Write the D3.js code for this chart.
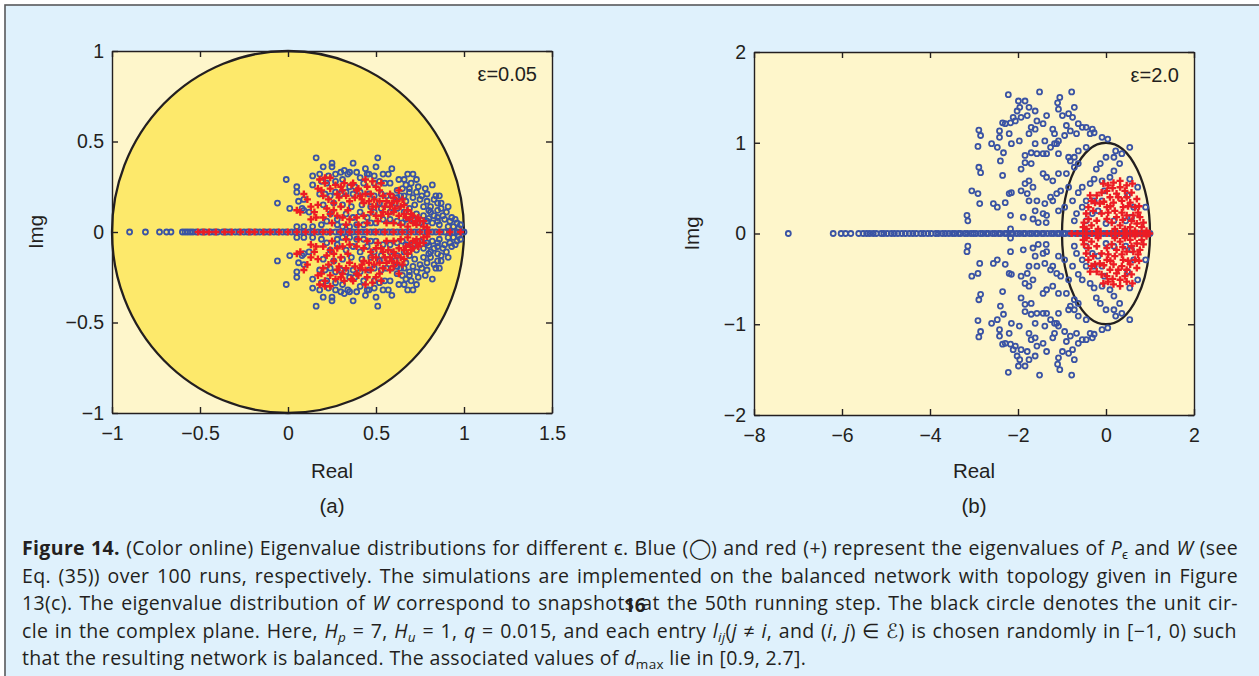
<!DOCTYPE html>
<html>
<head>
<meta charset="utf-8">
<script src="https://cdn.jsdelivr.net/npm/d3@7"></script>
<style>
  body { margin: 0; background: #fff; }
  svg { display: block; }
</style>
</head>
<body>
<svg width="1259" height="676"></svg>
<script>

// tick values
var ticksAx = [-1, -0.5, 0, 0.5, 1, 1.5],
    ticksAy = [-1, -0.5, 0, 0.5, 1],
    ticksBx = [-8, -6, -4, -2, 0, 2],
    ticksBy = [-2, -1, 0, 1, 2];

// (a) eps = 0.05 : eigenvalues in upper half plane [re, im] (conjugates mirror them)
var blueAUp = [
  [0.16,0.41],[0.25,0.38],[0.25,0.36],[0.20,0.36],[0.37,0.38],[0.51,0.41],[0.50,0.36],[0.44,0.35],
  [0.45,0.32],[0.39,0.33],[0.35,0.33],[0.32,0.34],[0.30,0.33],[0.27,0.32],[0.23,0.31],[0.18,0.32],
  [0.14,0.31],[0.19,0.28],[0.22,0.27],[0.27,0.28],[0.31,0.29],[0.34,0.32],[0.41,0.30],[0.46,0.32],
  [0.49,0.31],[0.54,0.32],[0.57,0.32],[0.59,0.35],[0.63,0.29],[0.66,0.29],[0.68,0.32],[0.71,0.32],
  [0.67,0.26],[0.70,0.27],[0.74,0.25],[0.69,0.24],[0.65,0.24],[0.62,0.23],[0.58,0.27],[0.55,0.27],
  [0.52,0.28],[0.49,0.27],[0.43,0.27],[0.38,0.25],[0.35,0.25],[0.69,0.22],[0.73,0.22],[0.76,0.20],
  [0.79,0.21],[0.82,0.26],[0.84,0.20],[0.86,0.20],[0.85,0.16],[0.81,0.14],[0.77,0.14],[0.72,0.15],
  [0.67,0.17],[0.66,0.20],[0.64,0.20],[0.62,0.19],[0.59,0.20],[0.56,0.20],[0.53,0.21],[0.49,0.20],
  [0.46,0.21],[0.41,0.22],[0.37,0.21],[0.33,0.22],[0.30,0.21],[0.27,0.22],[0.24,0.20],[0.21,0.21],
  [0.18,0.21],[0.09,0.18],[0.06,0.17],[0.05,0.25],[0.05,0.22],[-0.01,0.29],[-0.06,0.16],[0.08,0.13],
  [0.01,0.13],[0.14,0.26],[0.09,0.12],[0.12,0.11],[0.22,0.06],[0.24,0.10],[0.28,0.07],[0.33,0.10],
  [0.37,0.08],[0.41,0.11],[0.45,0.08],[0.49,0.11],[0.53,0.13],[0.58,0.11],[0.62,0.13],[0.66,0.11],
  [0.69,0.13],[0.73,0.10],[0.77,0.09],[0.81,0.11],[0.85,0.12],[0.87,0.13],[0.90,0.11],[0.92,0.06],
  [0.94,0.03],[0.96,0.05],[0.97,0.02],[0.89,0.07],[0.85,0.06],[0.82,0.05],[0.79,0.06],[0.75,0.05],
  [0.71,0.07],[0.67,0.07],[0.65,0.05],[0.62,0.06],[0.58,0.07],[0.54,0.07],[0.50,0.05],[0.47,0.05],
  [0.43,0.04],[0.39,0.04],[0.35,0.03],[0.31,0.03],[0.28,0.04],[0.19,0.04],[0.14,0.03],[0.09,0.03],
  [0.05,0.03],[0.79,0.17],[0.83,0.18],[0.87,0.16],[0.91,0.14],[0.93,0.08],[0.88,0.09],[0.85,0.08],
  [0.83,0.09],[0.80,0.075],[0.95,0.07],[0.91,0.03],[0.86,0.04],[0.98,0.04],[0.73,0.29],[0.78,0.24],
  [0.75,0.18],[0.80,0.12],[0.71,0.19],[0.20,0.15],[0.26,0.16],[0.31,0.15],[0.36,0.14],[0.42,0.15],
  [0.47,0.14],[0.52,0.16],[0.57,0.15],[0.61,0.16]
];
var redAUp = [
  [0.09,0.21],[0.11,0.18],[0.13,0.14],[0.15,0.11],[0.17,0.15],[0.19,0.23],[0.21,0.27],[0.24,0.24],
  [0.23,0.18],[0.26,0.16],[0.29,0.19],[0.30,0.25],[0.31,0.23],[0.33,0.20],[0.35,0.17],[0.37,0.27],
  [0.39,0.23],[0.41,0.20],[0.43,0.16],[0.45,0.25],[0.47,0.21],[0.49,0.18],[0.50,0.14],[0.52,0.23],
  [0.54,0.20],[0.56,0.17],[0.58,0.14],[0.60,0.11],[0.62,0.17],[0.64,0.14],[0.66,0.10],[0.67,0.08],
  [0.69,0.07],[0.71,0.05],[0.73,0.04],[0.75,0.06],[0.77,0.03],[0.79,0.025],[0.54,0.11],[0.50,0.09],
  [0.47,0.11],[0.43,0.09],[0.39,0.08],[0.35,0.07],[0.31,0.08],[0.28,0.09],[0.24,0.10],[0.20,0.08],
  [0.16,0.08],[0.13,0.07],[0.07,0.11],[0.05,0.12],[0.18,0.29],[0.21,0.30],[0.24,0.30],[0.27,0.26],
  [0.58,0.21],[0.60,0.19],[0.63,0.23],[0.50,0.25],[0.53,0.27],[0.48,0.28],[0.44,0.29],[0.65,0.18],
  [0.66,0.15],[0.68,0.12],[0.71,0.09],[0.74,0.08],[0.77,0.06],[0.32,0.27],[0.36,0.26],[0.40,0.24],
  [0.42,0.18],[0.46,0.17],[0.48,0.14],[0.52,0.17],[0.55,0.14],[0.57,0.10],[0.61,0.13],[0.63,0.09],
  [0.44,0.21],[0.38,0.19],[0.34,0.12],[0.30,0.14],[0.26,0.12],[0.22,0.13],[0.20,0.20],[0.17,0.24],
  [0.28,0.21],[0.51,0.06],[0.56,0.05],[0.60,0.05],[0.64,0.04],[0.68,0.03],[0.45,0.05],[0.40,0.04],
  [0.33,0.04],[0.25,0.05],[0.70,0.10],[0.73,0.06],[0.59,0.16],[0.53,0.09]
];
// eigenvalues lying on the real axis
var blueAReal = [-0.90,-0.81,-0.73,-0.69,-0.665,-0.60,-0.585,-0.57,-0.555,-0.54,-0.52,-0.49,-0.47,
  -0.44,-0.42,-0.40,-0.37,-0.35,-0.33,-0.30,-0.28,-0.25,-0.23,-0.21,-0.18,-0.16,-0.13,-0.11,-0.08,
  -0.06,-0.03,-0.01,0.02,0.04,0.07,0.09,0.12,0.14,0.17,0.19,0.22,0.24,0.27,0.29,0.32,0.34,0.37,
  0.39,0.42,0.44,0.47,0.49,0.52,0.54,0.57,0.59,0.62,0.64,0.67,0.69,0.72,0.74,0.77,0.79,0.82,0.84,
  0.87,0.89,0.92,0.94,0.96,0.98,1.0];
var redAReal = [-0.51,-0.48,-0.45,-0.41,-0.36,-0.32,-0.27,-0.22,-0.19,-0.14,-0.10,-0.05,0.0,0.05,
  0.10,0.15,0.20,0.24,0.30,0.35,0.40,0.45,0.50,0.55,0.60,0.65,0.70,0.75,0.80,0.86,0.92,0.98];

// (b) eps = 2.0
var blueBUp = [
  [-2.22,1.53],[-1.99,1.46],[-1.96,1.39],[-2.02,1.35],[-1.84,1.46],[-1.75,1.39],[-1.51,1.56],[-1.05,1.50],
  [-1.10,1.44],[-0.78,1.56],[-0.72,1.39],[-1.08,1.37],[-0.99,1.30],[-0.85,1.32],[-0.76,1.28],[-1.61,1.35],
  [-1.79,1.30],[-1.93,1.28],[-2.11,1.28],[-2.35,1.22],[-2.17,1.22],[-2.06,1.24],[-1.35,1.30],[-1.57,1.24],
  [-1.70,1.17],[-1.61,1.15],[-1.75,1.10],[-1.43,1.21],[-1.21,1.15],[-1.17,1.10],[-0.90,1.19],[-0.63,1.21],
  [-0.54,1.17],[-0.45,1.17],[-0.31,1.15],[-0.27,1.11],[-0.36,1.10],[-0.09,1.06],[0.04,1.04],[-0.67,1.10],
  [-0.81,1.13],[-0.94,1.08],[-1.08,1.02],[-1.17,0.99],[-1.26,0.95],[-1.35,0.88],[-1.39,1.02],[-1.61,0.99],
  [-1.70,0.89],[-1.57,0.88],[-1.43,0.88],[-1.84,0.86],[-1.97,1.02],[-2.15,0.99],[-2.42,1.06],[-2.42,1.13],
  [-2.60,0.99],[-2.47,0.95],[-2.33,0.89],[-2.40,0.80],[-2.89,1.14],[-2.85,1.08],[-2.91,0.96],[-2.89,0.73],
  [-2.85,0.67],[-2.20,1.10],[-2.29,1.21],[-1.12,0.99],[-1.08,0.88],[-0.85,0.84],[-0.81,0.80],[-0.72,0.84],
  [-0.63,0.91],[-0.45,0.95],[-0.63,0.77],[-0.72,0.73],[-0.90,0.66],[-1.08,0.66],[-1.21,0.58],[-1.35,0.62],
  [-1.43,0.66],[-1.70,0.77],[-1.84,0.78],[-1.93,0.71],[-1.75,0.58],[-1.84,0.55],[-1.66,0.51],[-1.79,0.44],
  [-1.75,0.36],[-1.57,0.36],[-1.61,0.25],[-1.66,0.16],[-1.88,0.18],[-1.39,0.33],[-1.21,0.36],[-1.12,0.44],
  [-1.03,0.47],[-0.85,0.51],[-0.94,0.29],[-0.76,0.36],[-0.63,0.45],[-0.54,0.51],[-0.36,0.55],[-0.45,0.36],
  [-0.54,0.29],[-0.67,0.22],[-0.72,0.14],[-0.45,0.14],[-0.31,0.22],[-0.18,0.25],[-0.27,0.36],[-0.09,0.36],
  [-0.04,0.47],[0.09,0.62],[0.18,0.69],[0.31,0.77],[0.18,0.84],[0.36,0.88],[0.54,0.95],[0.22,0.91],
  [0.00,0.84],[-0.13,0.77],[-0.22,0.71],[-0.27,0.60],[-0.09,0.58],[0.54,0.60],[0.72,0.51],[0.49,0.42],
  [0.63,0.29],[0.58,0.18],[0.90,0.29],[0.45,0.14],[0.18,0.14],[0.00,0.11],[-2.35,0.64],[-2.20,0.44],
  [-2.15,0.45],[-1.93,0.47],[-2.29,0.34],[-2.56,0.33],[-2.47,0.29],[-2.87,0.33],[-3.05,0.47],[-2.91,0.44],
  [-3.16,0.20],[-3.14,0.14],[-2.17,0.20],[-1.35,0.20],[-1.43,0.22],[-1.08,0.25],[-1.54,0.12],[-1.36,0.12],
  [-1.26,0.40],[-2.17,0.05]
];
var redBUp = [
  [-0.06,0.55],[0.05,0.53],[0.17,0.56],[0.32,0.51],[0.43,0.47],[0.24,0.44],[0.09,0.40],[-0.10,0.45],
  [-0.21,0.42],[-0.33,0.36],[-0.40,0.29],[-0.29,0.25],[-0.14,0.33],[0.02,0.29],[0.17,0.34],[0.36,0.36],
  [0.47,0.40],[0.58,0.45],[0.55,0.34],[0.66,0.29],[0.73,0.23],[0.77,0.18],[0.85,0.12],[0.81,0.07],
  [0.70,0.11],[0.58,0.14],[0.47,0.20],[0.36,0.23],[0.24,0.18],[0.13,0.12],[0.02,0.16],[-0.10,0.22],
  [-0.21,0.14],[-0.33,0.09],[-0.44,0.05],[-0.52,0.07],[-0.40,0.16],[0.32,0.09],[0.43,0.05],[0.55,0.07],
  [0.66,0.03],[0.92,0.03],[0.20,0.25],[0.05,0.23],[0.39,0.29],[-0.25,0.34],[-0.36,0.42],[0.02,0.47],
  [0.32,0.58],[0.47,0.53],[-0.45,0.22],[-0.50,0.12],[0.10,0.30],[0.28,0.40],[0.50,0.30],[0.62,0.20],
  [0.70,0.38],[-0.05,0.35],[0.15,0.50],[0.38,0.15],[-0.18,0.05],[0.20,0.05],[0.60,0.55],[0.75,0.30]
];
var blueBReal = [-7.22,-6.20,-6.02,-5.92,-5.80,-5.62,-5.52,-5.44,-5.37,-5.29,-5.22,-5.11,-5.05,-4.97,
  -4.88,-4.81,-4.73,-4.64,-4.56,-4.47,-4.39,-4.31,-4.21,-4.14,-4.05,-3.97,-3.87,-3.81,-3.72,-3.65,
  -3.57,-3.49,-3.43,-3.35,-3.30,-3.21,-3.15,-3.07,-3.01,-2.95,-2.86,-2.80,-2.72,-2.67,-2.58,-2.52,
  -2.44,-2.39,-2.30,-2.25,-2.16,-2.11,-2.03,-1.96,-1.88,-1.83,-1.74,-1.68,-1.60,-1.55,-1.46,-1.41,
  -1.33,-1.25,-1.19,-1.11,-1.06,-0.97,-0.92,-0.83,-0.78,-0.69,-0.63,-0.56,-0.48,-0.43,-0.34,-0.29,
  -0.20,-0.15,-0.06,0.01,0.08,0.15,0.22,0.28,0.36,0.41,0.50,0.56,0.63,0.70,0.77,0.84,0.91,0.97,1.0];
var redBReal = [-0.78,-0.65,-0.52,-0.45,-0.32,-0.22,-0.12,0.02,0.12,0.22,0.30,0.40,0.48,0.55,0.62,
  0.70,0.78,0.85,0.92,0.99];

var svg = d3.select("svg");
var ink = "#231f20";

// outer panel
svg.append("rect")
    .attr("x", 5).attr("y", 5)
    .attr("width", 1270).attr("height", 700)
    .attr("fill", "#dff1fc")
    .attr("stroke", "#58595b")
    .attr("stroke-width", 1.6);

var fmt = d3.format("");
var cross = d3.symbol().type(d3.symbolCross).size(28);

function conj(up) {
  return up.concat(up.map(function(d) { return [d[0], -d[1]]; }));
}

function panel(o) {
  var x = d3.scaleLinear().domain(o.xd).range([o.left, o.right]);
  var y = d3.scaleLinear().domain(o.yd).range([o.bottom, o.top]);
  var g = svg.append("g");

  g.append("rect")
      .attr("x", o.left).attr("y", o.top)
      .attr("width", o.right - o.left).attr("height", o.bottom - o.top)
      .attr("fill", "#fef6cb");

  // unit circle
  g.append("ellipse")
      .attr("cx", x(0)).attr("cy", y(0))
      .attr("rx", x(1) - x(0)).attr("ry", y(0) - y(1))
      .attr("fill", o.fillCircle ? "#fde96b" : "none")
      .attr("stroke", ink)
      .attr("stroke-width", 2.3);

  var blue = conj(o.blueUp).concat(o.blueReal.map(function(r) { return [r, 0]; }));
  var red = conj(o.redUp).concat(o.redReal.map(function(r) { return [r, 0]; }));

  g.append("g").selectAll("circle")
    .data(blue)
    .enter().append("circle")
      .attr("cx", function(d) { return x(d[0]); })
      .attr("cy", function(d) { return y(d[1]); })
      .attr("r", 2.5)
      .attr("fill", "none")
      .attr("stroke", "#3a53a4")
      .attr("stroke-width", 1.8);

  g.append("g").selectAll("path")
    .data(red)
    .enter().append("path")
      .attr("d", cross)
      .attr("transform", function(d) { return "translate(" + x(d[0]) + "," + y(d[1]) + ")"; })
      .attr("fill", "#ec1c24");

  // box axes, ticks inside
  var axes = [
    [d3.axisBottom(x).tickValues(o.tx).tickFormat(fmt), "translate(0," + o.bottom + ")"],
    [d3.axisTop(x).tickValues(o.tx).tickFormat(""), "translate(0," + o.top + ")"],
    [d3.axisLeft(y).tickValues(o.ty).tickFormat(fmt), "translate(" + o.left + ",0)"],
    [d3.axisRight(y).tickValues(o.ty).tickFormat(""), "translate(" + o.right + ",0)"]
  ];
  axes.forEach(function(a, i) {
    var ax = g.append("g")
        .attr("transform", a[1])
        .call(a[0].tickSizeInner(-6).tickSizeOuter(0).tickPadding(i === 0 ? 13.5 : 8));
    ax.attr("font-family", "'Liberation Sans', Arial, sans-serif")
      .attr("font-size", 19.5)
      .attr("color", ink);
    ax.selectAll("path, line").attr("stroke-width", 1.4);
  });

  var cx = (o.left + o.right) / 2;
  g.append("text")
      .attr("x", cx).attr("y", 478)
      .attr("text-anchor", "middle")
      .style("font", "20.5px 'Liberation Sans', Arial, sans-serif")
      .attr("fill", ink)
      .text("Real");
  g.append("text")
      .attr("x", cx).attr("y", 513)
      .attr("text-anchor", "middle")
      .style("font", "20.5px 'Liberation Sans', Arial, sans-serif")
      .attr("fill", ink)
      .text(o.tag);
  g.append("text")
      .attr("transform", "translate(" + o.imgX + "," + y(0) + ") rotate(-90)")
      .attr("text-anchor", "middle")
      .style("font", "20.5px 'Liberation Sans', Arial, sans-serif")
      .attr("fill", ink)
      .text("Img");
  g.append("text")
      .attr("x", o.right - 15).attr("y", o.top + 30)
      .attr("text-anchor", "end")
      .style("font", "20px 'Liberation Sans', Arial, sans-serif")
      .attr("fill", ink)
      .text(o.eps);
}

panel({ xd: [-1, 1.5], yd: [-1, 1], left: 112, right: 552, top: 51, bottom: 413,
        tx: ticksAx, ty: ticksAy, fillCircle: true, tag: "(a)", imgX: 43, eps: "\u03b5=0.05",
        blueUp: blueAUp, redUp: redAUp, blueReal: blueAReal, redReal: redAReal });
panel({ xd: [-8, 2], yd: [-2, 2], left: 754, right: 1194, top: 52, bottom: 415,
        tx: ticksBx, ty: ticksBy, fillCircle: false, tag: "(b)", imgX: 699, eps: "\u03b5=2.0",
        blueUp: blueBUp, redUp: redBUp, blueReal: blueBReal, redReal: redBReal });

// caption, justified lines
var capLines = [
  [["Figure 14.", "b"], [" (Color online) Eigenvalue distributions for different \u03f5. Blue (\u25ef) and red (+) represent the eigenvalues of "],
   ["P", "i"], ["\u03f5", "s"], [" and "], ["W", "i"], [" (see"]],
  [["Eq. (35)) over 100 runs, respectively. The simulations are implemented on the balanced network with topology given in Figure"]],
  [["13(c). The eigenvalue distribution of "], ["W", "i"], [" correspond to snapshots at the 50th running step. The black circle denotes the unit cir-"]],
  [["cle in the complex plane. Here, "], ["H", "i"], ["p", "is"], [" = 7, "], ["H", "i"], ["u", "is"], [" = 1, "], ["q", "i"],
   [" = 0.015, and each entry "], ["l", "i"], ["ij", "is"], ["("], ["j", "i"], [" \u2260 "], ["i", "i"], [",  and ("], ["i", "i"], [", "],
   ["j", "i"], [") \u2208 \u2130) is chosen randomly in [\u22121, 0) such"]],
  [["that the resulting network is balanced. The associated values of "], ["d", "i"], ["max", "s"], [" lie in [0.9, 2.7]."]]
];
var capY = [555, 582.5, 610, 637.5, 665];

capLines.forEach(function(segs, k) {
  var t = svg.append("text")
      .attr("x", 22).attr("y", capY[k])
      .attr("font-family", "'Open Sans', Roboto, sans-serif")
      .attr("font-size", 19.5)
      .attr("letter-spacing", 0.35)
      .attr("fill", ink);
  var shift = 0;
  segs.forEach(function(s) {
    var st = s[1] || "";
    var ts = t.append("tspan").text(s[0]);
    if (st.indexOf("b") >= 0) ts.attr("font-weight", "bold");
    if (st.indexOf("i") >= 0) ts.attr("font-style", "italic");
    var want = st.indexOf("s") >= 0 ? 4 : 0;
    if (want !== shift) { ts.attr("dy", want - shift); shift = want; }
    if (want) ts.attr("font-size", 13.5);
  });
  if (k < capLines.length - 1) {
    var w = t.node().getComputedTextLength();
    var n = (t.text().match(/ /g) || []).length;
    t.attr("word-spacing", (1216 - w) / n);
  }
});

// page number printed over the caption
svg.append("text")
    .attr("x", 624).attr("y", 612)
    .attr("font-family", "'Open Sans', Roboto, sans-serif")
    .attr("font-weight", "bold")
    .attr("font-size", 19)
    .attr("fill", ink)
    .text("16");

</script>
</body>
</html>
